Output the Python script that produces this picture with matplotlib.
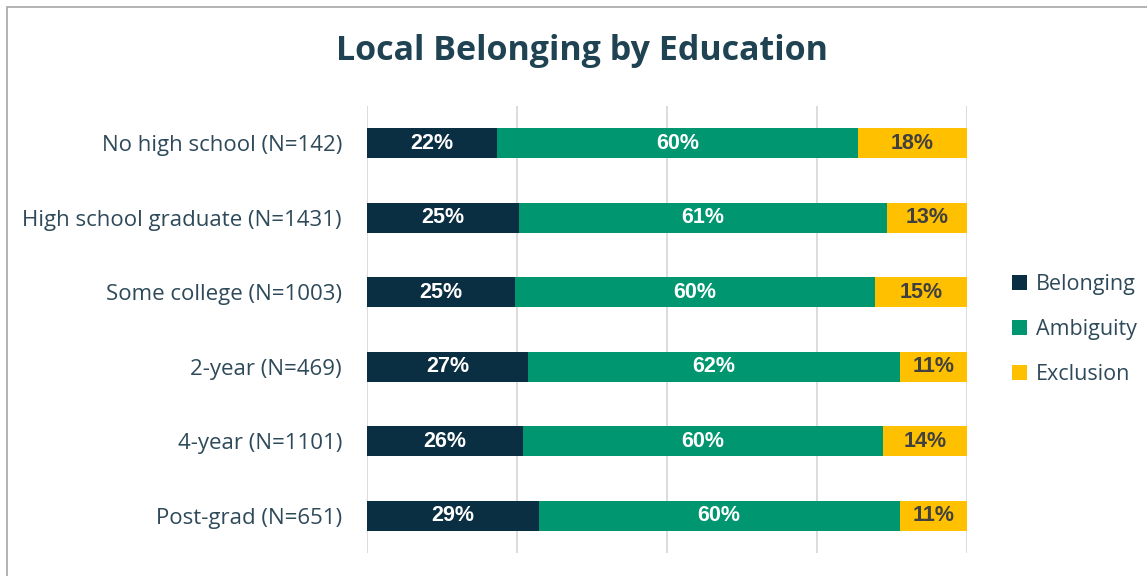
import numpy as np
import matplotlib.pyplot as plt
from matplotlib.patches import Rectangle

plt.rcParams['font.family'] = ['Open Sans', 'DejaVu Sans']

categories = [
    "No high school (N=142)",
    "High school graduate (N=1431)",
    "Some college (N=1003)",
    "2-year (N=469)",
    "4-year (N=1101)",
    "Post-grad (N=651)",
]
belonging = [21.7, 25.3, 24.7, 26.8, 26.0, 28.6]
ambiguity = [60.1, 61.4, 60.0, 62.0, 60.0, 60.2]
exclusion = [18.2, 13.3, 15.3, 11.2, 14.0, 11.2]

series = ["Belonging", "Ambiguity", "Exclusion"]
colors = ["#0B2F42", "#009670", "#FFC000"]
label_colors = ["white", "white", "#404040"]
text_color = "#2E4A5A"

fig = plt.figure(figsize=(11.47, 5.76), dpi=100)
ax = fig.add_axes([367 / 1147, 23 / 576, 600 / 1147, 447 / 576])

# outer chart frame (only left/top edges fall inside the canvas)
fig.patches.append(Rectangle((7 / 1147, -0.05), 1.2, 1.05 - 7 / 576,
                             transform=fig.transFigure, fill=False,
                             edgecolor="#A6A6A6", linewidth=1.2))

y = np.arange(len(categories))
left = np.zeros(len(categories))
for name, vals, col, lc in zip(series, [belonging, ambiguity, exclusion], colors, label_colors):
    vals = np.array(vals)
    ax.barh(y, vals, left=left, height=0.4, color=col, label=name, zorder=3)
    for yi, l, v in zip(y, left, vals):
        ax.text(l + v / 2, yi, f"{v:.0f}%", ha="center", va="center",
                color=lc, fontsize=15.5, fontweight="bold", zorder=4,
                family=["Liberation Sans", "DejaVu Sans"])
    left += vals

ax.set_xlim(0, 100)
ax.set_ylim(len(categories) - 0.5, -0.5)
ax.set_xticks([0, 25, 50, 75, 100])
ax.xaxis.grid(True, color="#D9D9D9", linewidth=1.3, zorder=0)
ax.set_xticklabels([])
ax.tick_params(axis="x", length=0)
ax.tick_params(axis="y", length=0, pad=18, labelsize=16, labelcolor=text_color)
ax.set_yticks(y)
ax.set_yticklabels(categories)
for s in ax.spines.values():
    s.set_visible(False)

fig.text(582 / 1147, 1 - 51 / 576, "Local Belonging by Education", ha="center", va="center",
         fontsize=24.5, fontweight="bold", color="#1F4352")

ax.legend(loc="center left", bbox_to_anchor=(1.043, 0.5), frameon=False, fontsize=15.5,
          labelcolor=text_color, handlelength=0.7, handleheight=0.7, handletextpad=0.4,
          labelspacing=1.1)

fig.savefig("out.png", dpi=100)
